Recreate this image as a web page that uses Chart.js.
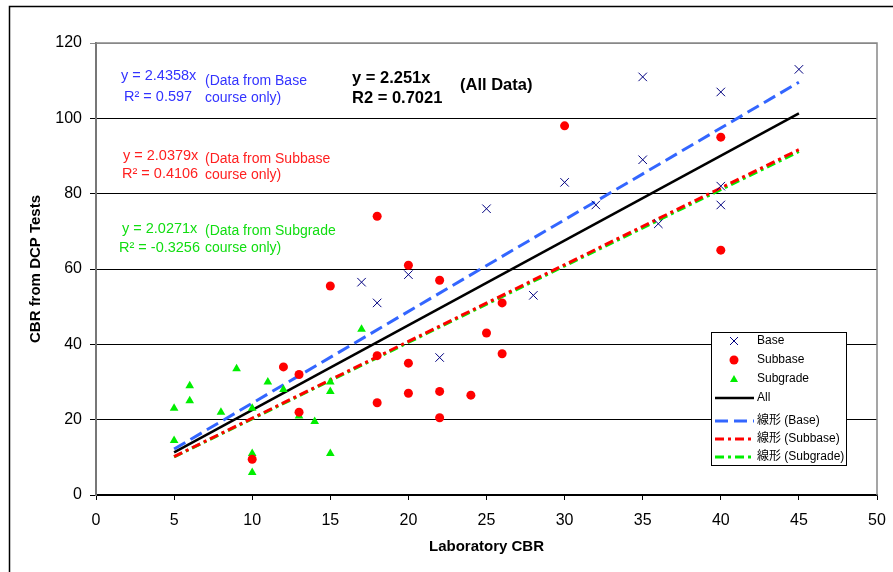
<!DOCTYPE html>
<html>
<head>
<meta charset="utf-8">
<script src="https://cdn.jsdelivr.net/npm/chart.js@4.4.1/dist/chart.umd.min.js"></script>
<style>
  body { margin: 0; background: #fff; }
  #wrap { width: 893px; height: 572px; }
</style>
</head>
<body>
<div id="wrap"><canvas id="cbr-chart" width="893" height="572"></canvas></div>
<script>
const FONT = '"Liberation Sans", Arial, "Noto Sans CJK JP", sans-serif';

// Measured points (Laboratory CBR vs CBR from DCP)
const baseX = [17, 18, 20, 22, 25, 28, 30, 32, 35, 35, 36, 40, 40, 40, 45];
const baseY = [56.5, 51, 58.5, 36.5, 76, 53, 83, 77, 111, 89, 72, 107, 82, 77, 113];

const subbaseX = [10, 12, 13, 13, 15, 18, 18, 18, 20, 20, 20, 22, 22, 22, 24, 25, 26, 26, 30, 40, 40];
const subbaseY = [9.5, 34, 32, 22, 55.5, 74, 37, 24.5, 61, 35, 27, 57, 27.5, 20.5, 26.5, 43, 51, 37.5, 98, 95, 65];

const subgradeX = [5, 5, 6, 6, 8, 9, 10, 10, 10, 11, 12, 13, 14, 15, 15, 15, 17];
const subgradeY = [23, 14.5, 29, 25, 22, 33.5, 23, 11, 6, 30, 28, 21, 19.5, 30, 27.5, 11, 44];

// Trend line end points
const fitX = [5, 45];
const allFit = [11.3, 101.3];
const baseFit = [12.2, 109.6];
const subbaseFit = [10.2, 91.7];
const subgradeFit = [10.1, 91.2];

const xTicks = [0, 5, 10, 15, 20, 25, 30, 35, 40, 45, 50];
const yTicks = [0, 20, 40, 60, 80, 100, 120];

const toPoints = (xs, ys) => xs.map((x, i) => ({ x: x, y: ys[i] }));

// equation notes drawn over the plot
const notes = [
    { text: 'y = 2.4358x', x: 121, y: 76, color: '#3333ff', font: '14.5px ' + FONT },
    { text: 'R² = 0.597', x: 124, y: 97, color: '#3333ff', font: '14.5px ' + FONT },
    { text: '(Data from Base', x: 205, y: 81, color: '#3333ff', font: '14px ' + FONT },
    { text: 'course only)', x: 205, y: 98, color: '#3333ff', font: '14px ' + FONT },
    { text: 'y = 2.0379x', x: 123, y: 156, color: '#ff2020', font: '14.5px ' + FONT },
    { text: 'R² = 0.4106', x: 122, y: 174, color: '#ff2020', font: '14.5px ' + FONT },
    { text: '(Data from Subbase', x: 205, y: 159, color: '#ff2020', font: '14px ' + FONT },
    { text: 'course only)', x: 205, y: 175, color: '#ff2020', font: '14px ' + FONT },
    { text: 'y = 2.0271x', x: 122, y: 229, color: '#11dd11', font: '14.5px ' + FONT },
    { text: 'R² = -0.3256', x: 119, y: 248, color: '#11dd11', font: '14.5px ' + FONT },
    { text: '(Data from Subgrade', x: 205, y: 231, color: '#11dd11', font: '14px ' + FONT },
    { text: 'course only)', x: 205, y: 248, color: '#11dd11', font: '14px ' + FONT },
    { text: 'y = 2.251x', x: 352, y: 78, color: '#000', font: 'bold 16.5px ' + FONT },
    { text: 'R2 = 0.7021', x: 352, y: 98, color: '#000', font: 'bold 16.5px ' + FONT },
    { text: '(All Data)', x: 460, y: 85, color: '#000', font: 'bold 16.5px ' + FONT }
];

// frame, plot border, notes and the boxed legend
const decorations = {
    id: 'decorations',
    beforeDraw(chart) {
        const ctx = chart.ctx;
        ctx.save();
        ctx.fillStyle = '#fff';
        ctx.fillRect(0, 0, chart.width, chart.height);
        ctx.strokeStyle = '#000';
        ctx.lineWidth = 1.5;
        ctx.strokeRect(9.5, 6.5, chart.width + 20, chart.height + 20);
        ctx.restore();
    },
    afterDatasetsDraw(chart) {
        const ctx = chart.ctx;
        const a = chart.chartArea;
        ctx.save();
        ctx.strokeStyle = '#888';
        ctx.lineWidth = 1.5;
        ctx.beginPath();
        ctx.moveTo(a.left, a.top);
        ctx.lineTo(a.right, a.top);
        ctx.lineTo(a.right, a.bottom);
        ctx.stroke();

        ctx.textAlign = 'left';
        ctx.textBaseline = 'middle';
        notes.forEach(n => {
            ctx.font = n.font;
            ctx.fillStyle = n.color;
            ctx.fillText(n.text, n.x, n.y);
        });

        // legend
        const bx = 711.5, by = 332.5, bw = 135, bh = 133;
        ctx.fillStyle = '#fff';
        ctx.fillRect(bx, by, bw, bh);
        ctx.strokeStyle = '#000';
        ctx.lineWidth = 1;
        ctx.strokeRect(bx, by, bw, bh);
        const rows = [341, 360, 379, 398, 421, 439, 457];
        ctx.font = '12px ' + FONT;
        chart.data.datasets.forEach((ds, i) => {
            const y = rows[i];
            const cx = 734;
            ctx.save();
            if (ds.showLine) {
                ctx.strokeStyle = ds.borderColor;
                ctx.lineWidth = ds.borderWidth;
                ctx.setLineDash(ds.borderDash || []);
                ctx.beginPath();
                ctx.moveTo(715, y);
                ctx.lineTo(754, y);
                ctx.stroke();
            } else if (ds.pointStyle === 'crossRot') {
                ctx.strokeStyle = ds.pointBorderColor;
                ctx.lineWidth = 1;
                ctx.beginPath();
                ctx.moveTo(cx - 4, y - 4); ctx.lineTo(cx + 4, y + 4);
                ctx.moveTo(cx + 4, y - 4); ctx.lineTo(cx - 4, y + 4);
                ctx.stroke();
            } else if (ds.pointStyle === 'circle') {
                ctx.fillStyle = ds.pointBackgroundColor;
                ctx.beginPath();
                ctx.arc(cx, y, 4.5, 0, Math.PI * 2);
                ctx.fill();
            } else {
                ctx.fillStyle = ds.pointBackgroundColor;
                ctx.beginPath();
                ctx.moveTo(cx, y - 4);
                ctx.lineTo(cx + 4, y + 3);
                ctx.lineTo(cx - 4, y + 3);
                ctx.closePath();
                ctx.fill();
            }
            ctx.restore();
            ctx.fillStyle = '#000';
            ctx.fillText(ds.label, 757, y);
        });
        ctx.restore();
    }
};

const scatterSet = (label, xs, ys, style, color, radius) => ({
    label: label,
    data: toPoints(xs, ys),
    showLine: false,
    pointStyle: style,
    pointRadius: radius,
    pointHoverRadius: radius,
    pointBackgroundColor: color,
    pointBorderColor: color,
    pointBorderWidth: style === 'crossRot' ? 1 : 0
});

const lineSet = (label, ys, color, width, dash) => ({
    label: label,
    data: toPoints(fitX, ys),
    showLine: true,
    borderColor: color,
    borderWidth: width,
    borderDash: dash,
    pointRadius: 0,
    fill: false
});

const ctxCbr = document.getElementById('cbr-chart').getContext('2d');
const cbrChart = new Chart(ctxCbr, {
    type: 'scatter',
    data: {
        datasets: [
            scatterSet('Base', baseX, baseY, 'crossRot', '#000080', 6),
            scatterSet('Subbase', subbaseX, subbaseY, 'circle', '#ff0000', 4.5),
            scatterSet('Subgrade', subgradeX, subgradeY, 'triangle', '#00ee00', 5),
            lineSet('All', allFit, '#000', 2.5, []),
            lineSet('線形 (Base)', baseFit, '#3366ff', 3, [13, 6]),
            lineSet('線形 (Subbase)', subbaseFit, '#ff0000', 3, [9, 4, 3, 4]),
            lineSet('線形 (Subgrade)', subgradeFit, '#00ee00', 3, [9, 4, 3, 4])
        ]
    },
    options: {
        responsive: false,
        animation: false,
        events: [],
        layout: { padding: { top: 43, right: 16, left: 0, bottom: 0 } },
        plugins: {
            legend: { display: false },
            tooltip: { enabled: false }
        },
        scales: {
            x: {
                type: 'linear',
                min: 0,
                max: 50,
                afterBuildTicks: s => { s.ticks = xTicks.map(v => ({ value: v })); },
                afterFit: s => { s.height = 77; s.paddingLeft = 0; s.paddingRight = 0; },
                ticks: { color: '#000', padding: 11, font: { family: FONT, size: 16 } },
                grid: { drawOnChartArea: false, drawTicks: true, tickLength: 5, color: '#000' },
                border: { color: '#000', width: 1.5 },
                title: {
                    display: true,
                    text: 'Laboratory CBR',
                    color: '#000',
                    padding: { bottom: 16 },
                    font: { family: FONT, size: 15, weight: 'bold' }
                }
            },
            y: {
                type: 'linear',
                min: 0,
                max: 120,
                afterBuildTicks: s => { s.ticks = yTicks.map(v => ({ value: v })); },
                afterFit: s => { s.width = 96; },
                ticks: { color: '#000', padding: 8, font: { family: FONT, size: 16 } },
                grid: {
                    tickLength: 6,
                    lineWidth: 1,
                    color: c => (c.tick && c.tick.value === 120 ? '#888' : '#000')
                },
                border: { color: '#777', width: 2 },
                title: {
                    display: true,
                    text: 'CBR from DCP Tests',
                    color: '#000',
                    padding: { top: 27 },
                    font: { family: FONT, size: 15, weight: 'bold' }
                }
            }
        }
    },
    plugins: [decorations]
});
</script>
</body>
</html>
